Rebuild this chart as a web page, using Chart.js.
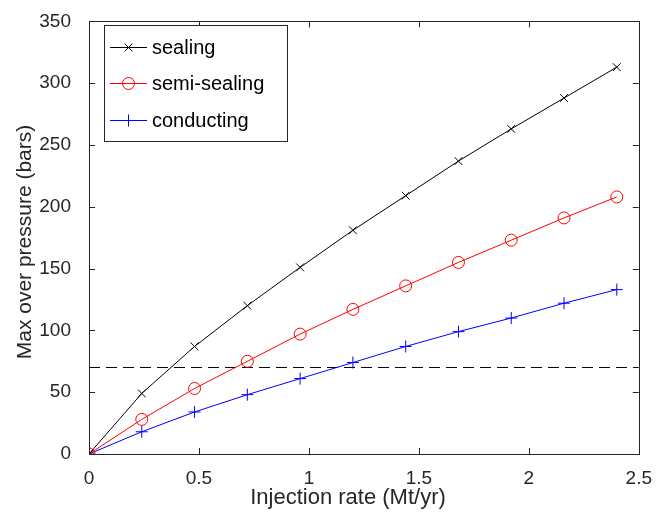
<!DOCTYPE html>
<html>
<head>
<meta charset="utf-8">
<script src="https://cdn.jsdelivr.net/npm/chart.js@4"></script>
<style>
html,body{margin:0;padding:0;background:#fff}
#wrap{width:657px;height:518px}
</style>
</head>
<body>
<div id="wrap"><canvas id="chart" width="657" height="518"></canvas></div>
<script>
const rates=[0,0.24,0.48,0.72,0.96,1.2,1.44,1.68,1.92,2.16,2.4]
const sealing=[0,49,87,120,151,181,209,237,263,288,313]
const semiSealing=[0,28,53,75,97,117,136,155,173,191,208]
const conducting=[0,18,34,48,61,74,87,99,110,122,133]
const limitX=[0,2.5]
const limitY=[70,70]
const labels=['sealing','semi-sealing','conducting']
const xTitle='Injection rate (Mt/yr)'
const yTitle='Max over pressure (bars)'

const pts=(xs,ys)=>xs.map((x,i)=>({x:x,y:ys[i]}))
const ink='#262626'
const fam='"Liberation Sans", Arial, sans-serif'

// inward ticks on all sides + box + axis titles
const boxTicks={
id:'boxTicks',
afterDraw(chart){
const ctx=chart.ctx
const a=chart.chartArea
const xs=chart.scales.x, ys=chart.scales.y
ctx.save()
ctx.strokeStyle=ink
ctx.lineWidth=1
ctx.beginPath()
xs.ticks.forEach(t=>{
const p=Math.round(xs.getPixelForValue(t.value))+0.5
ctx.moveTo(p,a.bottom);ctx.lineTo(p,a.bottom-6)
ctx.moveTo(p,a.top);ctx.lineTo(p,a.top+6)
})
ys.ticks.forEach(t=>{
const p=Math.round(ys.getPixelForValue(t.value))+0.5
ctx.moveTo(a.left,p);ctx.lineTo(a.left+6,p)
ctx.moveTo(a.right,p);ctx.lineTo(a.right-6,p)
})
ctx.stroke()
ctx.strokeRect(Math.round(a.left)+0.5,Math.round(a.top)+0.5,Math.round(a.right-a.left),Math.round(a.bottom-a.top))

ctx.fillStyle=ink
ctx.textAlign='center'
ctx.textBaseline='middle'
ctx.font='22px '+fam
ctx.fillText(xTitle,348,498)
ctx.translate(25,242)
ctx.rotate(-Math.PI/2)
ctx.font='21px '+fam
ctx.fillText(yTitle,0,0)
ctx.restore()
}
}

// legend box inside the axes
const boxLegend={
id:'boxLegend',
afterDraw(chart){
const ctx=chart.ctx
ctx.save()
ctx.fillStyle='#fff'
ctx.fillRect(104,25,183,116)
ctx.strokeStyle=ink
ctx.lineWidth=1
ctx.strokeRect(104.5,25.5,183,116)
ctx.textBaseline='middle'
const rows=[47,83,120]
for(let i=0;i<3;i++){
const ds=chart.data.datasets[i]
const y=rows[i]+0.5
ctx.strokeStyle=ds.borderColor
ctx.beginPath();ctx.moveTo(110,y);ctx.lineTo(147,y);ctx.stroke()
ctx.fillStyle='rgba(0,0,0,0)'
Chart.helpers.drawPoint(ctx,{pointStyle:ds.pointStyle,radius:ds.pointRadius,borderWidth:1,rotation:0},128.5,y)
ctx.fillStyle='#000'
ctx.font='20px '+fam
ctx.fillText(labels[i],152,rows[i]+1)
}
ctx.restore()
}
}

new Chart(document.getElementById('chart'),{
type:'line',
data:{
datasets:[
{label:labels[0],data:pts(rates,sealing),borderColor:'#000',backgroundColor:'transparent',borderWidth:1,pointStyle:'crossRot',pointRadius:5.5,pointBorderWidth:1},
{label:labels[1],data:pts(rates,semiSealing),borderColor:'#ff0000',backgroundColor:'transparent',borderWidth:1,pointStyle:'circle',pointRadius:6,pointBorderWidth:1},
{label:labels[2],data:pts(rates,conducting),borderColor:'#0000ff',backgroundColor:'transparent',borderWidth:1,pointStyle:'cross',pointRadius:6,pointBorderWidth:1},
{label:'limit',data:pts(limitX,limitY),borderColor:'#000',borderWidth:1,borderDash:[11,6],pointRadius:0}
]
},
options:{
responsive:false,
animation:false,
layout:{padding:{left:0,right:13,top:20,bottom:0}},
plugins:{legend:{display:false},tooltip:{enabled:false}},
scales:{
x:{
type:'linear',min:0,max:2.5,
afterFit:s=>{s.height=64},
grid:{display:false},
border:{display:false},
ticks:{stepSize:0.5,color:ink,font:{size:19,family:fam},padding:5,maxRotation:0,callback:v=>String(+v.toFixed(1))},
title:{display:false}
},
y:{
min:0,max:350,
afterFit:s=>{s.width=89},
grid:{display:false},
border:{display:false},
ticks:{stepSize:50,color:ink,font:{size:19,family:fam},padding:10},
title:{display:false}
}
}
},
plugins:[boxTicks,boxLegend]
})
</script>
</body>
</html>
